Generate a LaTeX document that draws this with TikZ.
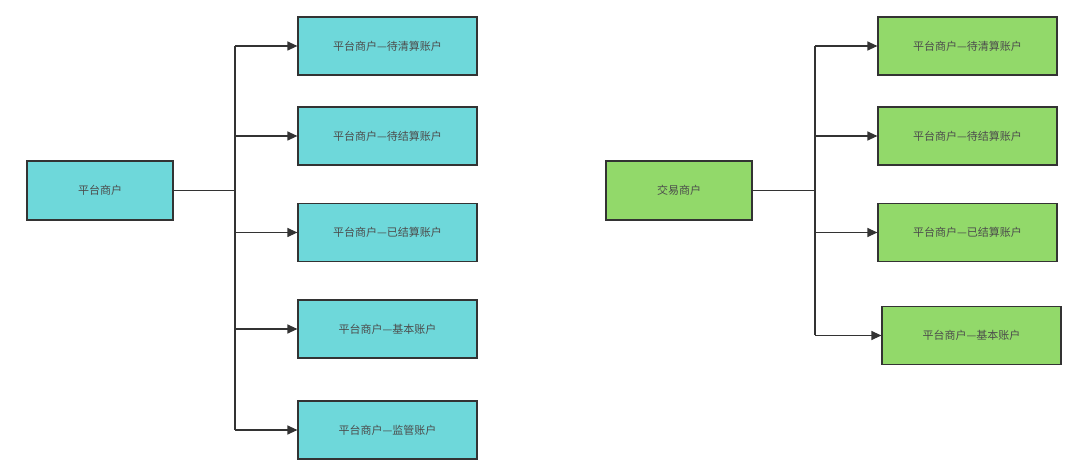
\documentclass[tikz,border=0pt]{standalone}
\usepackage{fontspec}
\setmainfont{Noto Sans CJK SC}
\usetikzlibrary{arrows.meta, positioning}
\definecolor{cyanbox}{HTML}{6ED8DA}
\definecolor{greenbox}{HTML}{92D96A}
\definecolor{linegray}{HTML}{333333}
\tikzset{
  acct/.style={draw=linegray, line width=1.2pt, minimum width=179pt, minimum height=58pt, font=\fontsize{11}{13}\selectfont, text=black!70},
  arrow/.style={line width=1.2pt, draw=linegray, -{Triangle[length=10pt,width=9pt]}},
  branch/.style={line width=1.2pt, draw=linegray}
}
\begin{document}
\begin{tikzpicture}[x=1pt, y=-1pt]
\useasboundingbox (0,0) rectangle (1080,470);

% left tree
\node (lroot) [acct, fill=cyanbox, minimum width=146pt, minimum height=59pt] at (100,190.5) {平台商户};
\node (l1) [acct, fill=cyanbox] at (387.5,46) {平台商户—待清算账户};
\node (l2) [acct, fill=cyanbox] at (387.5,136) {平台商户—待结算账户};
\node (l3) [acct, fill=cyanbox] at (387.5,232.5) {平台商户—已结算账户};
\node (l4) [acct, fill=cyanbox] at (387.5,329) {平台商户—基本账户};
\node (l5) [acct, fill=cyanbox] at (387.5,430) {平台商户—监管账户};
\coordinate (ltrunk) at (235,190.5);

\draw [branch] (lroot) -- (ltrunk);
\draw [branch] (235,46) -- (235,430);
\foreach \n in {l1,l2,l3,l4,l5}
  \draw [arrow] (ltrunk |- \n) -- (\n.west);

% right tree
\node (rroot) [acct, fill=greenbox, minimum width=146pt, minimum height=59pt] at (679,190.5) {交易商户};
\node (r1) [acct, fill=greenbox] at (967.5,46) {平台商户—待清算账户};
\node (r2) [acct, fill=greenbox] at (967.5,136) {平台商户—待结算账户};
\node (r3) [acct, fill=greenbox] at (967.5,232.5) {平台商户—已结算账户};
\node (r4) [acct, fill=greenbox] at (971.5,335.5) {平台商户—基本账户};
\coordinate (rtrunk) at (815,190.5);

\draw [branch] (rroot) -- (rtrunk);
\draw [branch] (815,46) -- (815,335.5);
\foreach \n in {r1,r2,r3,r4}
  \draw [arrow] (rtrunk |- \n) -- (\n.west);

\end{tikzpicture}
\end{document}
